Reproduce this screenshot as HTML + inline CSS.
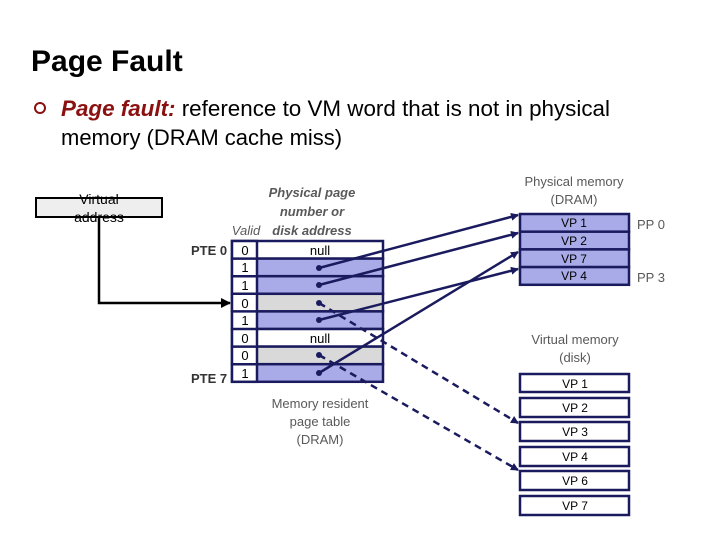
<!DOCTYPE html>
<html><head><meta charset="utf-8"><style>
body{margin:0;width:720px;height:540px;background:#fff;overflow:hidden;font-family:"Liberation Sans",sans-serif;}
</style></head><body>
<svg width="720" height="540" xmlns="http://www.w3.org/2000/svg" font-family="Liberation Sans, sans-serif">
<defs>
<marker id="ah" markerWidth="8" markerHeight="8" refX="7" refY="4" orient="auto" markerUnits="userSpaceOnUse"><path d="M0,0 L8,4 L0,8 z" fill="#1a1a5e"/></marker>
<marker id="ak" markerWidth="10" markerHeight="10" refX="9" refY="5" orient="auto" markerUnits="userSpaceOnUse"><path d="M0,0 L10,5 L0,10 z" fill="#000"/></marker>
</defs>
<text x="31" y="71" font-size="30" font-weight="bold" fill="#000">Page Fault</text>
<circle cx="40" cy="108" r="5" fill="none" stroke="#8b1010" stroke-width="2"/>
<text x="61" y="116" font-size="22" fill="#000" textLength="549" lengthAdjust="spacingAndGlyphs"><tspan font-style="italic" font-weight="bold" fill="#8b1010">Page fault:</tspan> reference to VM word that is not in physical</text>
<text x="61" y="145" font-size="22" fill="#000">memory (DRAM cache miss)</text>

<rect x="36" y="198" width="126" height="19" fill="#eee" stroke="#000" stroke-width="2"/>
<text x="99" y="204" font-size="14" text-anchor="middle">Virtual</text>
<text x="99" y="222" font-size="14" text-anchor="middle">address</text>
<polyline points="99,217 99,303 230,303" fill="none" stroke="#000" stroke-width="2.5" marker-end="url(#ak)"/>

<g font-size="13" font-style="italic" fill="#595959" text-anchor="middle" font-weight="bold">
<text x="312" y="197">Physical page</text>
<text x="312" y="216">number or</text>
<text x="312" y="235">disk address</text>
<text x="246" y="235" font-weight="normal">Valid</text>
</g>
<g font-size="13" fill="#333" font-weight="bold">
<text x="191" y="255">PTE 0</text>
<text x="191" y="383">PTE 7</text>
</g>
<g stroke="#1a1a5e" stroke-width="2.5">
<rect x="232" y="241" width="151" height="17.6" fill="#fff"/>
<rect x="232" y="258.6" width="151" height="17.6" fill="#a9abe8"/>
<rect x="232" y="276.2" width="151" height="17.6" fill="#a9abe8"/>
<rect x="232" y="293.8" width="151" height="17.6" fill="#d9d9d9"/>
<rect x="232" y="311.4" width="151" height="17.6" fill="#a9abe8"/>
<rect x="232" y="329" width="151" height="17.6" fill="#fff"/>
<rect x="232" y="346.6" width="151" height="17.6" fill="#d9d9d9"/>
<rect x="232" y="364.2" width="151" height="17.6" fill="#a9abe8"/>
<rect x="232" y="241" width="25" height="140.8" fill="#fff"/>
<line x1="232" y1="258.6" x2="257" y2="258.6"/><line x1="232" y1="276.2" x2="257" y2="276.2"/><line x1="232" y1="293.8" x2="257" y2="293.8"/><line x1="232" y1="311.4" x2="257" y2="311.4"/><line x1="232" y1="329" x2="257" y2="329"/><line x1="232" y1="346.6" x2="257" y2="346.6"/><line x1="232" y1="364.2" x2="257" y2="364.2"/>
</g>
<g font-size="13" fill="#000" text-anchor="middle">
<text x="245" y="255">0</text><text x="245" y="272">1</text><text x="245" y="290">1</text><text x="245" y="308">0</text><text x="245" y="325">1</text><text x="245" y="343">0</text><text x="245" y="360">0</text><text x="245" y="378">1</text>
<text x="320" y="255">null</text><text x="320" y="343">null</text>
</g>
<g fill="#1a1a5e">
<circle cx="319" cy="268" r="3"/><circle cx="319" cy="285" r="3"/><circle cx="319" cy="303" r="3"/><circle cx="319" cy="320" r="3"/><circle cx="319" cy="355" r="3"/><circle cx="319" cy="373" r="3"/>
</g>
<g stroke="#1a1a5e" stroke-width="2.5" fill="none">
<line x1="319" y1="268" x2="518" y2="215" marker-end="url(#ah)"/>
<line x1="319" y1="285" x2="518" y2="233" marker-end="url(#ah)"/>
<line x1="319" y1="320" x2="518" y2="269" marker-end="url(#ah)"/>
<line x1="319" y1="373" x2="518" y2="252" marker-end="url(#ah)"/>
<line x1="319" y1="303" x2="518" y2="423" stroke-dasharray="7,5" marker-end="url(#ah)"/>
<line x1="319" y1="355" x2="518" y2="470" stroke-dasharray="7,5" marker-end="url(#ah)"/>
</g>
<g font-size="13" fill="#595959" text-anchor="middle">
<text x="320" y="408">Memory resident</text>
<text x="320" y="426">page table</text>
<text x="320" y="444">(DRAM)</text>
<text x="574" y="186">Physical memory</text>
<text x="574" y="204">(DRAM)</text>
<text x="575" y="344">Virtual memory</text>
<text x="575" y="362">(disk)</text>
<text x="651" y="229">PP 0</text>
<text x="651" y="282">PP 3</text>
</g>
<g stroke="#1a1a5e" stroke-width="2.5" fill="#a9abe8">
<rect x="520" y="214" width="109" height="17.7"/><rect x="520" y="231.7" width="109" height="17.7"/><rect x="520" y="249.4" width="109" height="17.7"/><rect x="520" y="267.1" width="109" height="17.7"/>
</g>
<g stroke="#1a1a5e" stroke-width="2.5" fill="#fff">
<rect x="520" y="374" width="109" height="18"/><rect x="520" y="398" width="109" height="19"/><rect x="520" y="422" width="109" height="19"/><rect x="520" y="447" width="109" height="19"/><rect x="520" y="471" width="109" height="19"/><rect x="520" y="496" width="109" height="19"/>
</g>
<g font-size="12" fill="#000" text-anchor="middle">
<text x="574" y="227">VP 1</text><text x="574" y="245">VP 2</text><text x="574" y="263">VP 7</text><text x="574" y="280">VP 4</text>
<text x="575" y="388">VP 1</text><text x="575" y="412">VP 2</text><text x="575" y="436">VP 3</text><text x="575" y="461">VP 4</text><text x="575" y="485">VP 6</text><text x="575" y="510">VP 7</text>
</g>
</svg>
</body></html>
